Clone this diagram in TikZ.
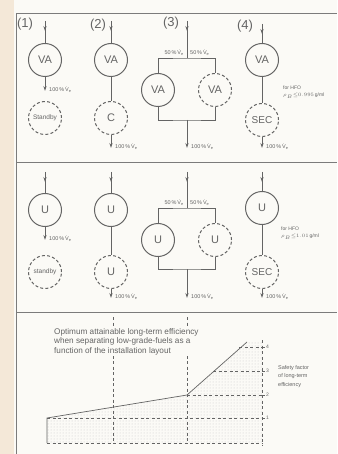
\documentclass[tikz,border=0pt]{standalone}
\usepackage{fontspec}
\setmainfont{Liberation Sans}
\setsansfont{Liberation Sans}
\usepackage{tikz}
\usetikzlibrary{calc, positioning, arrows.meta, decorations.markings, patterns}

\definecolor{page}{RGB}{251,250,246}
\definecolor{edge}{RGB}{244,232,216}
\definecolor{ink}{RGB}{100,100,100}

\tikzset{
  sep/.style={circle, draw=ink, line width=1pt, minimum size=33pt, inner sep=0pt,
    text=ink, font=\fontsize{11}{11}\selectfont},
  sparesep/.style={sep, dash pattern=on 3pt off 2.2pt},
  pipe/.style={draw=ink, line width=0.8pt},
  infeed/.style={pipe, decoration={markings,
      mark=at position 10pt with {\arrow{Stealth[length=5pt,width=3.2pt]}}},
    postaction={decorate}},
  outfeed/.style={pipe, -{Stealth[length=5pt,width=3.2pt]}},
  flowlbl/.style={text=ink, inner sep=0pt, font=\fontsize{5.5}{6}\selectfont},
  numlbl/.style={text=ink, inner sep=0pt, font=\fontsize{13}{13}\selectfont},
  notelbl/.style={text=ink, inner sep=0pt, align=left, font=\fontsize{5}{7}\selectfont},
  frame/.style={draw=ink!85, line width=0.8pt},
  grid/.style={draw=ink, line width=0.6pt, dash pattern=on 3pt off 2.5pt},
}
\newcommand{\flowrate}[1]{#1\,\%\,\.{V}\textsubscript{e}}

\begin{document}
\begin{tikzpicture}[x=1pt, y=1pt]
  \useasboundingbox (0,0) rectangle (337,-454);
  \fill[page] (0,0) rectangle (337,-454);
  \fill[edge] (0,0) rectangle (14,-454);
  % frame
  \draw[frame] (16,-454) -- (16,-13) -- (337,-13);
  \draw[frame] (16,-162) -- (337,-162);
  \draw[frame] (16,-312) -- (337,-312);

  % ---------- row 1: VA ----------
  \node[numlbl] (n1) at (25,-24) {(1)};
  \node[numlbl] (n2) at (98,-25) {(2)};
  \node[numlbl] (n3) at (171,-23) {(3)};
  \node[numlbl] (n4) at (245,-26) {(4)};

  % layout 1
  \coordinate (in1) at (45,-21);
  \node[sep] (va1) at (45,-60) {VA};
  \coordinate (out1) at (45,-91);
  \node[sparesep] (sb1) at (45,-118) {\fontsize{6.5}{7}\selectfont Standby};
  \draw[infeed] (in1) -- (va1);
  \draw[outfeed] (va1) -- (out1);
  \node[flowlbl, right=4pt of out1, yshift=1.5pt] (q1) {\flowrate{100}};

  % layout 2
  \coordinate (in2) at (111,-21);
  \node[sep] (va2) at (111,-60) {VA};
  \node[sparesep] (c2) at (111,-118) {C};
  \coordinate (out2) at (111,-148);
  \draw[infeed] (in2) -- (va2);
  \draw[pipe] (va2) -- (c2);
  \draw[outfeed] (c2) -- (out2);
  \node[flowlbl, right=4pt of out2, yshift=1.5pt] (q2) {\flowrate{100}};

  % layout 3
  \coordinate (in3) at (187,-21);
  \coordinate (top3) at (187,-58);
  \node[sep] (va3a) at (158,-90) {VA};
  \node[sparesep] (va3b) at (215,-90) {VA};
  \coordinate (bot3) at (187,-120);
  \coordinate (out3) at (187,-148);
  \draw[infeed] (in3) -- (top3);
  \draw[pipe] (va3a) |- (top3) -| (va3b);
  \draw[pipe] (va3a) |- (bot3) -| (va3b);
  \draw[outfeed] (bot3) -- (out3);
  \node[flowlbl, above left=2.5pt and 3pt of top3] (h3a) {\flowrate{50}};
  \node[flowlbl, above right=2.5pt and 3pt of top3] (h3b) {\flowrate{50}};
  \node[flowlbl, right=4pt of out3, yshift=1.5pt] (q3) {\flowrate{100}};

  % layout 4
  \coordinate (in4) at (262,-24);
  \node[sep] (va4) at (262,-60) {VA};
  \node[sparesep, font=\fontsize{10}{10}\selectfont] (sec4) at (262,-120) {SEC};
  \coordinate (out4) at (262,-148);
  \draw[infeed] (in4) -- (va4);
  \draw[pipe] (va4) -- (sec4);
  \draw[outfeed] (sec4) -- (out4);
  \node[flowlbl, right=4pt of out4, yshift=1.5pt] (q4) {\flowrate{100}};
  \node[notelbl, anchor=west] (hfo1) at (283,-92) {for HFO\\$\rho_B{\le}0.995$\,g/ml};

  % ---------- row 2: U ----------
  % layout 1
  \coordinate (in5) at (45,-172);
  \node[sep] (u5) at (45,-210) {U};
  \coordinate (out5) at (45,-240);
  \node[sparesep] (sb5) at (45,-272) {\fontsize{6.5}{7}\selectfont standby};
  \draw[infeed] (in5) -- (u5);
  \draw[outfeed] (u5) -- (out5);
  \node[flowlbl, right=4pt of out5, yshift=1.5pt] (q5) {\flowrate{100}};

  % layout 2
  \coordinate (in6) at (111,-172);
  \node[sep] (u6) at (111,-210) {U};
  \node[sparesep] (u6b) at (111,-272) {U};
  \coordinate (out6) at (111,-298);
  \draw[infeed] (in6) -- (u6);
  \draw[pipe] (u6) -- (u6b);
  \draw[outfeed] (u6b) -- (out6);
  \node[flowlbl, right=4pt of out6, yshift=1.5pt] (q6) {\flowrate{100}};

  % layout 3
  \coordinate (in7) at (187,-172);
  \coordinate (top7) at (187,-208);
  \node[sep] (u7a) at (158,-240) {U};
  \node[sparesep] (u7b) at (215,-240) {U};
  \coordinate (bot7) at (187,-269);
  \coordinate (out7) at (187,-298);
  \draw[infeed] (in7) -- (top7);
  \draw[pipe] (u7a) |- (top7) -| (u7b);
  \draw[pipe] (u7a) |- (bot7) -| (u7b);
  \draw[outfeed] (bot7) -- (out7);
  \node[flowlbl, above left=2.5pt and 3pt of top7] (h7a) {\flowrate{50}};
  \node[flowlbl, above right=2.5pt and 3pt of top7] (h7b) {\flowrate{50}};
  \node[flowlbl, right=4pt of out7, yshift=1.5pt] (q7) {\flowrate{100}};

  % layout 4
  \coordinate (in8) at (262,-172);
  \node[sep] (u8) at (262,-208) {U};
  \node[sparesep, font=\fontsize{10}{10}\selectfont] (sec8) at (262,-272) {SEC};
  \coordinate (out8) at (262,-298);
  \draw[infeed] (in8) -- (u8);
  \draw[pipe] (u8) -- (sec8);
  \draw[outfeed] (sec8) -- (out8);
  \node[flowlbl, right=4pt of out8, yshift=1.5pt] (q8) {\flowrate{100}};
  \node[notelbl, anchor=west] (hfo2) at (281,-233) {for HFO\\$\rho_B{\le}1.01$\,g/ml};

  % ---------- row 3: efficiency graph ----------
  \fill[pattern=dots, pattern color=ink!35] (47,-418) -- (187,-395) -- (247,-342)
    -- (262,-342) -- (262,-443) -- (47,-443) -- cycle;
  \draw[grid] (113,-317) -- (113,-443);
  \draw[grid] (187,-317) -- (187,-443);
  \draw[grid] (47,-418) -- (262,-418);
  \draw[grid] (187,-395) -- (262,-395);
  \draw[grid] (213,-371) -- (262,-371);
  \draw[grid] (239,-347) -- (262,-347);
  \draw[grid] (47,-443) -- (262,-443);
  \draw[grid] (262,-340) -- (262,-445);
  \draw[pipe, line width=0.7pt] (47,-443) -- (47,-418) -- (187,-395) -- (247,-342);
  \foreach \k/\yy in {1/-418, 2/-395, 3/-371, 4/-347} {
    \draw[pipe, line width=0.6pt] (262,\yy) -- (265,\yy);
    \node[flowlbl, anchor=west, font=\fontsize{5}{5}\selectfont] (t\k) at (266,\yy) {\k};
  }
  \node[notelbl, anchor=north west, fill=page, inner sep=1pt,
    font=\fontsize{8.2}{9.5}\selectfont] (ttl) at (53,-327)
    {Optimum attainable long-term efficiency\\
     when separating low-grade-fuels as a\\
     function of the installation layout};
  \node[notelbl, anchor=north west, font=\fontsize{5.5}{8.5}\selectfont] (sf) at (278,-365)
    {Safety factor\\of long-term\\efficiency};
\end{tikzpicture}
\end{document}
